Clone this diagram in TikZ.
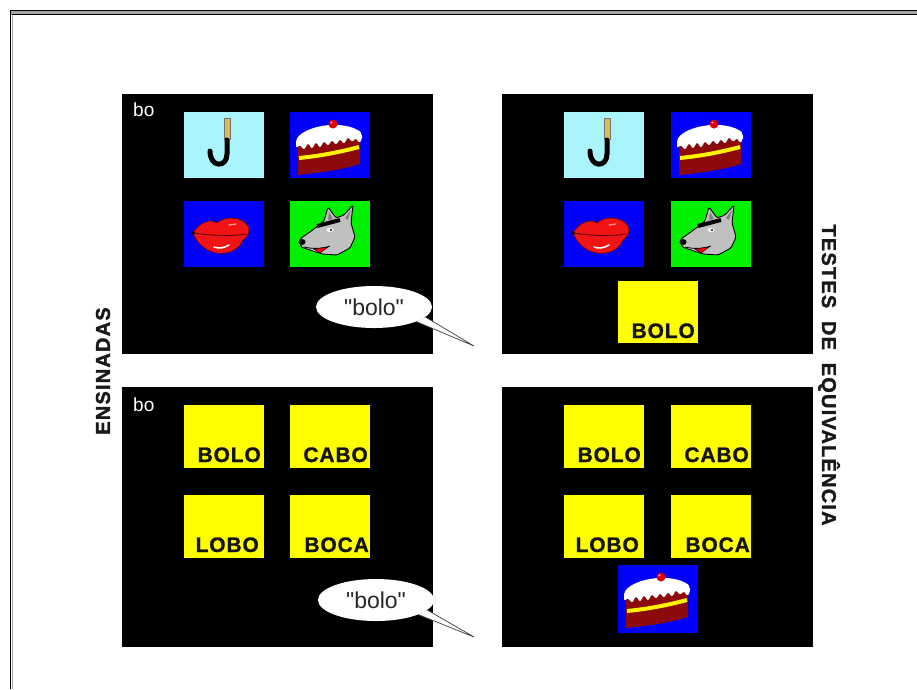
\documentclass[tikz,border=0pt]{standalone}
\usepackage{fontspec}
\setmainfont{Liberation Sans}
\newfontfamily\wordfont[LetterSpace=4, BoldFont={Liberation Sans Bold},
  BoldFeatures={FakeBold=1}]{Liberation Sans}
\newfontfamily\sidefont[LetterSpace=6, BoldFont={Liberation Sans Bold},
  BoldFeatures={FakeBold=1.5}]{Liberation Sans}
\usetikzlibrary{shapes.geometric,calc}

\definecolor{skyT}{RGB}{170,245,252}
\definecolor{blueT}{RGB}{0,0,250}
\definecolor{greenT}{RGB}{0,240,0}
\definecolor{yellowT}{RGB}{255,255,0}
\definecolor{cakeRed}{RGB}{140,10,10}
\definecolor{lipRed}{RGB}{240,20,20}
\definecolor{handleTan}{RGB}{215,190,90}
\definecolor{wolfGray}{RGB}{192,192,192}
\definecolor{frameGray}{RGB}{165,165,165}

\tikzset{
  panel/.style={fill=black, minimum width=311pt, minimum height=260pt,
    anchor=north west, inner sep=0pt, outer sep=0pt},
  picturetile/.style={minimum width=80pt, minimum height=66pt,
    anchor=north west, inner sep=0pt, outer sep=0pt},
  wordtile/.style={fill=yellowT, minimum width=80pt, minimum height=63pt,
    anchor=north west, inner sep=0pt, outer sep=0pt},
  wordlabel/.style={font=\wordfont\bfseries\fontsize{21}{24}\selectfont,
    text=black!92, anchor=base east, inner sep=0pt},
  syllable/.style={font=\fontsize{19}{22}\selectfont, text=white,
    anchor=base west, inner sep=0pt},
  bubble/.style={ellipse, fill=white, minimum width=116pt, minimum height=42pt,
    inner sep=0pt, font=\fontsize{23}{26}\selectfont, text=black!85},
  tail/.style={fill=white, draw=black!75, line width=0.7pt},
  sidelabel/.style={font=\sidefont\bfseries\fontsize{20}{24}\selectfont,
    text=black!90, inner sep=0pt},
  % icons, drawn from the tile's top-left corner (y grows downwards)
  umbrella/.pic={
    \fill[handleTan, draw=black!55, line width=0.4pt] (40,6) rectangle (46,27);
    \draw[black, line width=5pt, line cap=round]
      (43,28) -- (43,42) .. controls (43,56) and (26,56) .. (26,39);
  },
  cake/.pic={
    \fill[cakeRed] (8,30) -- (8,63) .. controls (30,61) and (55,57) .. (70,52)
      -- (70,22) -- cycle;
    \draw[yellow, line width=4pt] (9,46) .. controls (30,44) and (50,40) .. (69,35);
    \fill[white, rounded corners=2pt] (6,36) -- (6,28)
      .. controls (12,18) and (30,13) .. (44,13)
      .. controls (58,13) and (68,17) .. (72,22) -- (72,28) -- (69,31)
      -- (66,26) -- (62,30) -- (58,25) -- (54,32) -- (50,27) -- (46,33)
      -- (42,28) -- (38,34) -- (34,29) -- (30,36) -- (26,30) -- (22,37)
      -- (18,31) -- (14,38) -- (10,33) -- cycle;
    \fill[red!85!black] (43,12) circle (4.5);
    \fill[white!70!red] (41.5,10.5) circle (1.2);
  },
  lips/.pic={
    \fill[lipRed, draw=red!45!black, line width=0.6pt] (9,32)
      .. controls (15,22) and (26,17) .. (33,22)
      .. controls (40,15) and (58,15) .. (64,25)
      .. controls (67,32) and (62,37) .. (59,39)
      .. controls (52,56) and (25,58) .. (12,38) -- cycle;
    \draw[red!40!black, line width=0.9pt] (9,32) .. controls (25,34) and (45,36) .. (62,33);
    \draw[white, line width=1.5pt, line cap=round]
      (30,46) .. controls (35,48) and (40,47) .. (45,44);
    \draw[white!60!red, line width=1.2pt, line cap=round] (45,24) -- (52,23);
    \fill[black] (9,32) circle (1.8);
  },
  wolf/.pic={
    \fill[wolfGray, draw=black, line width=0.9pt, rounded corners=1.5pt]
      (10,38) -- (24,28) -- (34,20) -- (38,6) -- (46,17) -- (54,14) -- (63,4)
      -- (61,22) -- (65,36) -- (60,47) -- (47,54) -- (32,53) -- (20,49)
      -- (11,46) -- cycle;
    \fill[gray] (39,11) -- (43,18) -- (38,19) -- cycle;
    \fill[gray] (61,9) -- (58,19) -- (55,17) -- cycle;
    \draw[black, line width=4pt] (27,25) -- (50,19);
    \fill[white] (40,29) ellipse (3.5 and 2);
    \fill[black] (41,29) circle (1.2);
    \fill[black] (12,41) ellipse (3.5 and 3);
    \draw[black, line width=0.8pt] (14,46) .. controls (22,48) and (32,48) .. (40,45);
    \fill[red, draw=black, line width=0.5pt] (24,48) -- (38,46) -- (30,52) -- cycle;
  }
}

\begin{document}
\begin{tikzpicture}[x=1pt, y=-1pt]
  \fill[white] (0,0) rectangle (917,689);
  \useasboundingbox (0,0) rectangle (917,689);

  % page frame: double rule on top, single rule on the left
  \fill[frameGray] (10,10) rectangle (917,15);
  \draw[black, line width=1.1pt] (10,10.5) -- (917,10.5);
  \draw[black, line width=1.1pt] (12,14.5) -- (917,14.5);
  \draw[black, line width=1.2pt] (10.6,10) -- (10.6,689);
  \draw[frameGray, line width=1.4pt] (12.4,15) -- (12.4,689);

  % four screens
  \node[panel] (tl) at (122,94) {};
  \node[panel] (tr) at (502,94) {};
  \node[panel] (bl) at (122,387) {};
  \node[panel] (br) at (502,387) {};

  % top-left screen: picture choices with spoken sample
  \node[syllable] (tlSyl) at (133,116) {bo};
  \node[picturetile, fill=skyT]  (tlA) at (184,112) {};
  \node[picturetile, fill=blueT] (tlB) at (290,112) {};
  \node[picturetile, fill=blueT] (tlC) at (184,201) {};
  \node[picturetile, fill=greenT](tlD) at (290,201) {};
  \pic at (tlA.north west) {umbrella};
  \pic at (tlB.north west) {cake};
  \pic at (tlC.north west) {lips};
  \pic at (tlD.north west) {wolf};
  \node[bubble] (bubA) at (374,307) {\textquotedbl bolo\textquotedbl};
  \coordinate (tipA) at (474,346);
  \filldraw[tail] (bubA.-11) -- (tipA) -- (bubA.-19);

  % top-right screen: printed word as sample
  \node[picturetile, fill=skyT]  (trA) at (564,112) {};
  \node[picturetile, fill=blueT] (trB) at (671,112) {};
  \node[picturetile, fill=blueT] (trC) at (564,201) {};
  \node[picturetile, fill=greenT](trD) at (671,201) {};
  \pic at (trA.north west) {umbrella};
  \pic at (trB.north west) {cake};
  \pic at (trC.north west) {lips};
  \pic at (trD.north west) {wolf};
  \node[wordtile, minimum height=62pt] (trW) at (618,281) {};
  \node[wordlabel] (trWt) at ($(trW.south east)+(-3,-5)$) {BOLO};

  % bottom-left screen: word choices with spoken sample
  \node[syllable] (blSyl) at (133,411) {bo};
  \node[wordtile] (blA) at (184,405) {};
  \node[wordtile] (blB) at (290,405) {};
  \node[wordtile] (blC) at (184,495) {};
  \node[wordtile] (blD) at (290,495) {};
  \node[wordlabel] (blAt) at ($(blA.south east)+(-3,-6)$) {BOLO};
  \node[wordlabel] (blBt) at ($(blB.south east)+(-2,-6)$) {CABO};
  \node[wordlabel] (blCt) at ($(blC.south east)+(-5,-6)$) {LOBO};
  \node[wordlabel] (blDt) at ($(blD.south east)+(-1,-6)$) {BOCA};
  \node[bubble] (bubB) at (376,600) {\textquotedbl bolo\textquotedbl};
  \coordinate (tipB) at (474,637);
  \filldraw[tail] (bubB.-11) -- (tipB) -- (bubB.-19);

  % bottom-right screen: word choices with picture sample
  \node[wordtile] (brA) at (564,405) {};
  \node[wordtile] (brB) at (671,405) {};
  \node[wordtile] (brC) at (564,495) {};
  \node[wordtile] (brD) at (671,495) {};
  \node[wordlabel] (brAt) at ($(brA.south east)+(-3,-6)$) {BOLO};
  \node[wordlabel] (brBt) at ($(brB.south east)+(-2,-6)$) {CABO};
  \node[wordlabel] (brCt) at ($(brC.south east)+(-5,-6)$) {LOBO};
  \node[wordlabel] (brDt) at ($(brD.south east)+(-1,-6)$) {BOCA};
  \node[picturetile, fill=blueT, minimum height=68pt] (brP) at (618,565) {};
  \pic at (brP.north west) {cake};

  % side captions
  \node[sidelabel, rotate=90] (ens) at (103,371) {ENSINADAS};
  \node[sidelabel, rotate=-90] (tes) at (829,375)
    {TESTES\hspace{6pt} DE\hspace{6pt} EQUIVALÊNCIA};
\end{tikzpicture}
\end{document}
